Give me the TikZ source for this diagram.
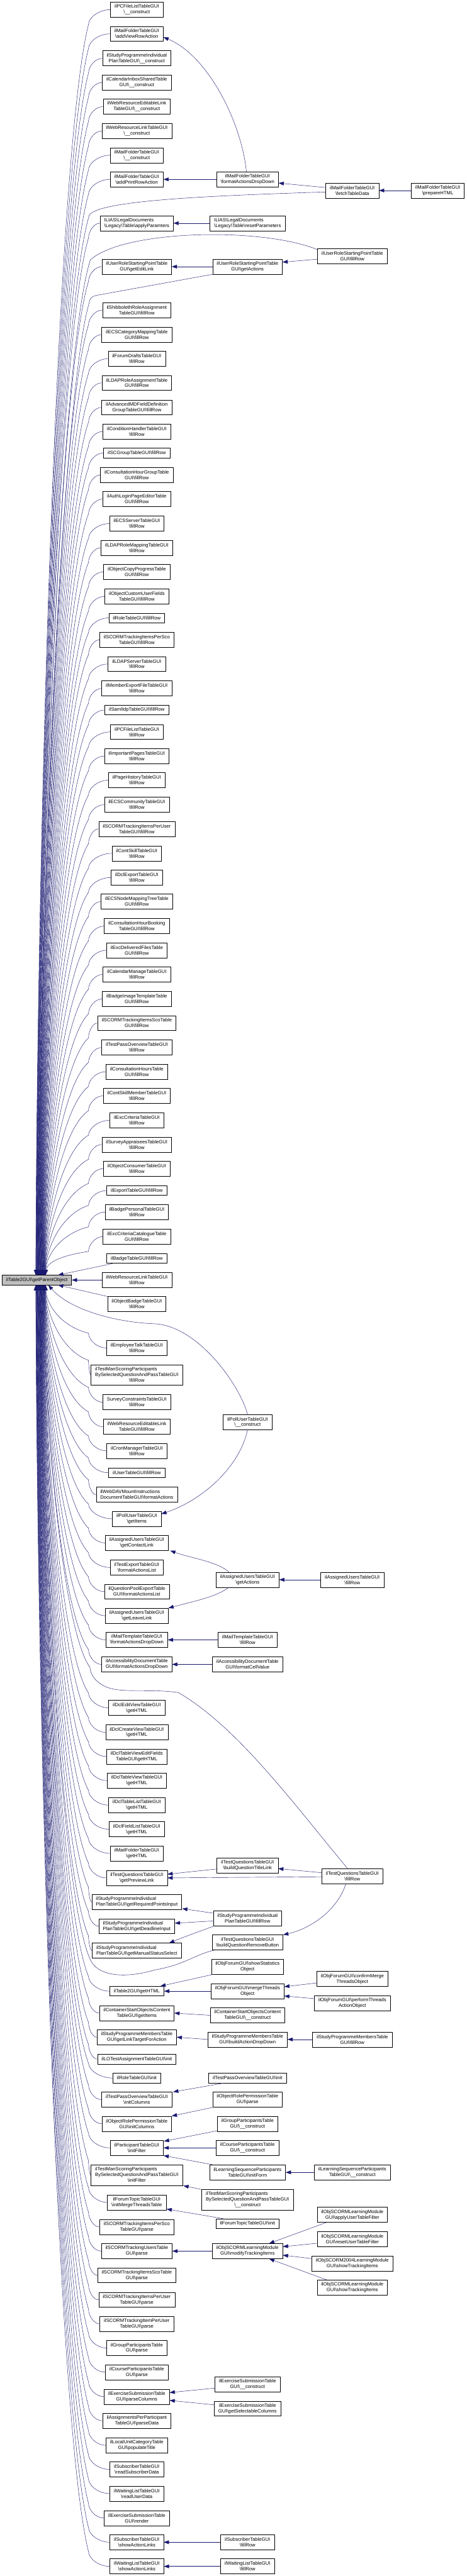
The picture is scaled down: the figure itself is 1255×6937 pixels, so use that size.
\documentclass[tikz,border=0pt]{standalone}
\usepackage{fontspec}
\setmainfont{Liberation Sans}
\usetikzlibrary{arrows.meta,calc}
\definecolor{edgeblue}{HTML}{191970}
\def\BKS{\textbackslash}
\begin{document}
\begin{tikzpicture}[x=1pt,y=-1pt,
  nbox/.style={draw=black,line width=0.9pt,fill=white,inner xsep=11pt,inner ysep=2pt,align=center,font=\fontsize{13}{15.2}\selectfont},
  b1/.style={nbox,minimum height=26pt},
  b2/.style={nbox,minimum height=40.5pt},
  b3/.style={nbox,minimum height=55pt},
  lft/.style={align=left},
  rootbox/.style={b1,fill=black!25},
  conn/.style={draw=edgeblue,line width=0.75pt,-{Triangle[length=14pt,width=10pt]}}]
\fill[white] (0,0) rectangle (1255,6937);
\useasboundingbox (0,0) rectangle (1255,6937);

% ---------- root ----------
\node[rootbox] (root) at (99.25,3447) {ilTable2GUI\BKS getParentObject};

% ---------- column 2 ----------
\node[b2] (n1) at (368,26) {ilPCFileListTableGUI\\\BKS\_\_construct};
\node[b2] (n2) at (368,91) {ilMailFolderTableGUI\\\BKS addViewRowAction};
\node[b2] (n3) at (368,157) {ilStudyProgrammeIndividual\\PlanTableGUI\BKS\_\_construct};
\node[b2] (n4) at (368,222) {ilCalendarInboxSharedTable\\GUI\BKS\_\_construct};
\node[b2] (n5) at (368,287) {ilWebResourceEditableLink\\TableGUI\BKS\_\_construct};
\node[b2] (n6) at (368,353) {ilWebResourceLinkTableGUI\\\BKS\_\_construct};
\node[b2] (n7) at (368,418) {ilMailFolderTableGUI\\\BKS\_\_construct};
\node[b2] (n8) at (368,483) {ilMailFolderTableGUI\\\BKS addPrintRowAction};
\node[b2,lft] (n9) at (368,601) {ILIAS\BKS LegalDocuments\\\BKS Legacy\BKS Table\BKS applyParamters};
\node[b2] (n10) at (368,718) {ilUserRoleStartingPointTable\\GUI\BKS getEditLink};
\node[b2] (n11) at (368,835) {ilShibbolethRoleAssignment\\TableGUI\BKS fillRow};
\node[b2] (n12) at (368,901) {ilECSCategoryMappingTable\\GUI\BKS fillRow};
\node[b2] (n13) at (368,966) {ilForumDraftsTableGUI\\\BKS fillRow};
\node[b2] (n14) at (368,1031) {ilLDAPRoleAssignmentTable\\GUI\BKS fillRow};
\node[b2] (n15) at (368,1097) {ilAdvancedMDFieldDefinition\\GroupTableGUI\BKS fillRow};
\node[b2] (n16) at (368,1162) {ilConditionHandlerTableGUI\\\BKS fillRow};
\node[b1] (n17) at (368,1220) {ilSCGroupTableGUI\BKS fillRow};
\node[b2] (n18) at (368,1279) {ilConsultationHourGroupTable\\GUI\BKS fillRow};
\node[b2] (n19) at (368,1344) {ilAuthLoginPageEditorTable\\GUI\BKS fillRow};
\node[b2] (n20) at (368,1410) {ilECSServerTableGUI\\\BKS fillRow};
\node[b2] (n21) at (368,1475) {ilLDAPRoleMappingTableGUI\\\BKS fillRow};
\node[b2] (n22) at (368,1540) {ilObjectCopyProgressTable\\GUI\BKS fillRow};
\node[b2] (n23) at (368,1606) {ilObjectCustomUserFields\\TableGUI\BKS fillRow};
\node[b1] (n24) at (368,1664) {ilRoleTableGUI\BKS fillRow};
\node[b2] (n25) at (368,1723) {ilSCORMTrackingItemsPerSco\\TableGUI\BKS fillRow};
\node[b2] (n26) at (368,1788) {ilLDAPServerTableGUI\\\BKS fillRow};
\node[b2] (n27) at (368,1854) {ilMemberExportFileTableGUI\\\BKS fillRow};
\node[b1] (n28) at (368,1912) {ilSamlIdpTableGUI\BKS fillRow};
\node[b2] (n29) at (368,1971) {ilPCFileListTableGUI\\\BKS fillRow};
\node[b2] (n30) at (368,2036) {ilImportantPagesTableGUI\\\BKS fillRow};
\node[b2] (n31) at (368,2101) {ilPageHistoryTableGUI\\\BKS fillRow};
\node[b2] (n32) at (368,2167) {ilECSCommunityTableGUI\\\BKS fillRow};
\node[b2] (n33) at (368,2232) {ilSCORMTrackingItemsPerUser\\TableGUI\BKS fillRow};
\node[b2] (n34) at (368,2298) {ilContSkillTableGUI\\\BKS fillRow};
\node[b2] (n35) at (368,2363) {ilDclExportTableGUI\\\BKS fillRow};
\node[b2] (n36) at (368,2428) {ilECSNodeMappingTreeTable\\GUI\BKS fillRow};
\node[b2] (n37) at (368,2494) {ilConsultationHourBooking\\TableGUI\BKS fillRow};
\node[b2] (n38) at (368,2559) {ilExcDeliveredFilesTable\\GUI\BKS fillRow};
\node[b2] (n39) at (368,2624) {ilCalendarManageTableGUI\\\BKS fillRow};
\node[b2] (n40) at (368,2690) {ilBadgeImageTemplateTable\\GUI\BKS fillRow};
\node[b2] (n41) at (368,2755) {ilSCORMTrackingItemsScoTable\\GUI\BKS fillRow};
\node[b2] (n42) at (368,2821) {ilTestPassOverviewTableGUI\\\BKS fillRow};
\node[b2] (n43) at (368,2886) {ilConsultationHoursTable\\GUI\BKS fillRow};
\node[b2] (n44) at (368,2951) {ilContSkillMemberTableGUI\\\BKS fillRow};
\node[b2] (n45) at (368,3017) {ilExcCriteriaTableGUI\\\BKS fillRow};
\node[b2] (n46) at (368,3082) {ilSurveyAppraiseesTableGUI\\\BKS fillRow};
\node[b2] (n47) at (368,3147) {ilObjectConsumerTableGUI\\\BKS fillRow};
\node[b1] (n48) at (368,3206) {ilExportTableGUI\BKS fillRow};
\node[b2] (n49) at (368,3264) {ilBadgePersonalTableGUI\\\BKS fillRow};
\node[b2] (n50) at (368,3330) {ilExcCriteriaCatalogueTable\\GUI\BKS fillRow};
\node[b1] (n51) at (368,3389) {ilBadgeTableGUI\BKS fillRow};
\node[b2] (n52) at (368,3447) {ilWebResourceLinkTableGUI\\\BKS fillRow};
\node[b2] (n53) at (368,3512) {ilObjectBadgeTableGUI\\\BKS fillRow};
\node[b2] (n54) at (368,3630) {ilEmployeeTalkTableGUI\\\BKS fillRow};
\node[b3] (n55) at (368,3703) {\begin{tabular}{@{}l@{}}ilTestManScoringParticipants\\BySelectedQuestionAndPassTableGUI\\\multicolumn{1}{@{}c@{}}{\BKS fillRow}\end{tabular}};
\node[b2] (n56) at (368,3776) {SurveyConstraintsTableGUI\\\BKS fillRow};
\node[b2] (n57) at (368,3842) {ilWebResourceEditableLink\\TableGUI\BKS fillRow};
\node[b2] (n58) at (368,3907) {ilCronManagerTableGUI\\\BKS fillRow};
\node[b1] (n59) at (368,3966) {ilUserTableGUI\BKS fillRow};
\node[b2,lft] (n60) at (368,4025) {ilWebDAVMountInstructions\\DocumentTableGUI\BKS formatActions};
\node[b2] (n61) at (368,4090) {ilPollUserTableGUI\\\BKS getItems};
\node[b2] (n62) at (368,4155) {ilAssignedUsersTableGUI\\\BKS getContactLink};
\node[b2] (n63) at (368,4221) {ilTestExportTableGUI\\\BKS formatActionsList};
\node[b2] (n64) at (368,4286) {ilQuestionPoolExportTable\\GUI\BKS formatActionsList};
\node[b2] (n65) at (368,4351) {ilAssignedUsersTableGUI\\\BKS getLeaveLink};
\node[b2] (n66) at (368,4416) {ilMailTemplateTableGUI\\\BKS formatActionsDropDown};
\node[b2] (n67) at (368,4482) {ilAccessibilityDocumentTable\\GUI\BKS formatActionsDropDown};
\node[b2] (n68) at (368,4599) {ilDclEditViewTableGUI\\\BKS getHTML};
\node[b2] (n69) at (368,4665) {ilDclCreateViewTableGUI\\\BKS getHTML};
\node[b2] (n70) at (368,4730) {ilDclTableViewEditFields\\TableGUI\BKS getHTML};
\node[b2] (n71) at (368,4795) {ilDclTableViewTableGUI\\\BKS getHTML};
\node[b2] (n72) at (368,4861) {ilDclTableListTableGUI\\\BKS getHTML};
\node[b2] (n73) at (368,4926) {ilDclFieldListTableGUI\\\BKS getHTML};
\node[b2] (n74) at (368,4991) {ilMailFolderTableGUI\\\BKS getHTML};
\node[b2] (n75) at (368,5057) {ilTestQuestionsTableGUI\\\BKS getPreviewLink};
\node[b2,lft] (n76) at (368,5122) {ilStudyProgrammeIndividual\\PlanTableGUI\BKS getRequiredPointsInput};
\node[b2,lft] (n77) at (368,5187) {ilStudyProgrammeIndividual\\PlanTableGUI\BKS getDeadlineInput};
\node[b2,lft] (n78) at (368,5253) {ilStudyProgrammeIndividual\\PlanTableGUI\BKS getManualStatusSelect};
\node[b1] (n79) at (368,5362) {ilTable2GUI\BKS getHTML};
\node[b2] (n80) at (368,5421) {ilContainerStartObjectsContent\\TableGUI\BKS getItems};
\node[b2] (n81) at (368,5486) {ilStudyProgrammeMembersTable\\GUI\BKS getLinkTargetForAction};
\node[b1] (n82) at (368,5545) {ilLOTestAssignmentTableGUI\BKS init};
\node[b1] (n83) at (368,5596) {ilRoleTableGUI\BKS init};
\node[b2] (n84) at (368,5654) {ilTestPassOverviewTableGUI\\\BKS initColumns};
\node[b2] (n85) at (368,5719) {ilObjectRolePermissionTable\\GUI\BKS initColumns};
\node[b2] (n86) at (368,5784) {ilParticipantTableGUI\\\BKS initFilter};
\node[b3] (n87) at (368,5858) {\begin{tabular}{@{}l@{}}ilTestManScoringParticipants\\BySelectedQuestionAndPassTableGUI\\\multicolumn{1}{@{}c@{}}{\BKS initFilter}\end{tabular}};
\node[b2] (n88) at (368,5931) {ilForumTopicTableGUI\\\BKS initMergeThreadsTable};
\node[b2] (n89) at (368,5997) {ilSCORMTrackingItemsPerSco\\TableGUI\BKS parse};
\node[b2] (n90) at (368,6062) {ilSCORMTrackingUsersTable\\GUI\BKS parse};
\node[b2] (n91) at (368,6127) {ilSCORMTrackingItemsScoTable\\GUI\BKS parse};
\node[b2] (n92) at (368,6193) {ilSCORMTrackingItemsPerUser\\TableGUI\BKS parse};
\node[b2] (n93) at (368,6258) {ilSCORMTrackingItemPerUser\\TableGUI\BKS parse};
\node[b2] (n94) at (368,6323) {ilGroupParticipantsTable\\GUI\BKS parse};
\node[b2] (n95) at (368,6388) {ilCourseParticipantsTable\\GUI\BKS parse};
\node[b2] (n96) at (368,6454) {ilExerciseSubmissionTable\\GUI\BKS parseColumns};
\node[b2] (n97) at (368,6519) {ilAssignmentsPerParticipant\\TableGUI\BKS parseData};
\node[b2] (n98) at (368,6585) {ilLocalUnitCategoryTable\\GUI\BKS populateTitle};
\node[b2] (n99) at (368,6650) {ilSubscriberTableGUI\\\BKS readSubscriberData};
\node[b2] (n100) at (368,6715) {ilWaitingListTableGUI\\\BKS readUserData};
\node[b2] (n101) at (368,6781) {ilExerciseSubmissionTable\\GUI\BKS render};
\node[b2] (n102) at (368,6846) {ilSubscriberTableGUI\\\BKS showActionLinks};
\node[b2] (n103) at (368,6911) {ilWaitingListTableGUI\\\BKS showActionLinks};

% ---------- columns 3-5 ----------
\node[b2] (c3a) at (666,483) {ilMailFolderTableGUI\\\BKS formatActionsDropDown};
\node[b2] (c4a) at (948,513) {ilMailFolderTableGUI\\\BKS fetchTableData};
\node[b2] (c5a) at (1178,513) {ilMailFolderTableGUI\\\BKS prepareHTML};
\node[b2,lft] (c3b) at (666,601) {ILIAS\BKS LegalDocuments\\\BKS Legacy\BKS Table\BKS resetParameters};
\node[b2] (c4b) at (948,689) {ilUserRoleStartingPointTable\\GUI\BKS fillRow};
\node[b2] (c3c) at (666,718) {ilUserRoleStartingPointTable\\GUI\BKS getActions};
\node[b2] (c3d) at (666,3830) {ilPollUserTableGUI\\\BKS\_\_construct};
\node[b2] (c3e) at (666,4254) {ilAssignedUsersTableGUI\\\BKS getActions};
\node[b2] (c4e) at (948,4254) {ilAssignedUsersTableGUI\\\BKS fillRow};
\node[b2] (c3f) at (666,4416) {ilMailTemplateTableGUI\\\BKS fillRow};
\node[b2] (c3g) at (666,4482) {ilAccessibilityDocumentTable\\GUI\BKS formatCellValue};
\node[b2] (c3h) at (666,5023) {ilTestQuestionsTableGUI\\\BKS buildQuestionTitleLink};
\node[b2] (c4h) at (948,5052) {ilTestQuestionsTableGUI\\\BKS fillRow};
\node[b2] (c3i) at (666,5166) {ilStudyProgrammeIndividual\\PlanTableGUI\BKS fillRow};
\node[b2] (c3j) at (666,5231) {ilTestQuestionsTableGUI\\\BKS buildQuestionRemoveButton};
\node[b2] (c3k) at (666,5296) {ilObjForumGUI\BKS showStatistics\\Object};
\node[b2] (c4k) at (948,5329) {ilObjForumGUI\BKS confirmMerge\\ThreadsObject};
\node[b2] (c3l) at (666,5362) {ilObjForumGUI\BKS mergeThreads\\Object};
\node[b2] (c4l) at (948,5394) {ilObjForumGUI\BKS performThreads\\ActionObject};
\node[b2] (c3m) at (666,5427) {ilContainerStartObjectsContent\\TableGUI\BKS\_\_construct};
\node[b2] (c3n) at (666,5492) {ilStudyProgrammeMembersTable\\GUI\BKS buildActionDropDown};
\node[b2] (c4n) at (948,5492) {ilStudyProgrammeMembersTable\\GUI\BKS fillRow};
\node[b1] (c3o) at (666,5596) {ilTestPassOverviewTableGUI\BKS init};
\node[b2] (c3p) at (666,5654) {ilObjectRolePermissionTable\\GUI\BKS parse};
\node[b2] (c3q) at (666,5719) {ilGroupParticipantsTable\\GUI\BKS\_\_construct};
\node[b2] (c3r) at (666,5784) {ilCourseParticipantsTable\\GUI\BKS\_\_construct};
\node[b2] (c3s) at (666,5850) {ilLearningSequenceParticipants\\TableGUI\BKS initForm};
\node[b2] (c4s) at (948,5850) {ilLearningSequenceParticipants\\TableGUI\BKS\_\_construct};
\node[b3] (c3t) at (666,5924) {\begin{tabular}{@{}l@{}}ilTestManScoringParticipants\\BySelectedQuestionAndPassTableGUI\\\multicolumn{1}{@{}c@{}}{\BKS\_\_construct}\end{tabular}};
\node[b1] (c3u) at (666,5988) {ilForumTopicTableGUI\BKS init};
\node[b2] (c4v) at (948,5964) {ilObjSCORMLearningModule\\GUI\BKS applyUserTableFilter};
\node[b2] (c4w) at (948,6030) {ilObjSCORMLearningModule\\GUI\BKS resetUserTableFilter};
\node[b2] (c3v) at (666,6062) {ilObjSCORMLearningModule\\GUI\BKS modifyTrackingItems};
\node[b2] (c4x) at (948,6095) {ilObjSCORM2004LearningModule\\GUI\BKS showTrackingItems};
\node[b2] (c4y) at (948,6160) {ilObjSCORMLearningModule\\GUI\BKS showTrackingItems};
\node[b2] (c3w) at (666,6421) {ilExerciseSubmissionTable\\GUI\BKS\_\_construct};
\node[b2] (c3x) at (666,6486) {ilExerciseSubmissionTable\\GUI\BKS getSelectableColumns};
\node[b2] (c3y) at (666,6846) {ilSubscriberTableGUI\\\BKS fillRow};
\node[b2] (c3z) at (666,6911) {ilWaitingListTableGUI\\\BKS fillRow};

% ---------- fan of callers above the root ----------
\foreach \nd/\yc in {n1/26,n2/91,n3/157,n4/222,n5/287,n6/353,n7/418,n8/483,n9/601,n10/718,n11/835,n12/901,n13/966,n14/1031,n15/1097,n16/1162,n17/1220,n18/1279,n19/1344,n20/1410,n21/1475,n22/1540,n23/1606,n24/1664,n25/1723,n26/1788,n27/1854,n28/1912,n29/1971,n30/2036,n31/2101,n32/2167,n33/2232,n34/2298,n35/2363,n36/2428,n37/2494,n38/2559,n39/2624,n40/2690,n41/2755,n42/2821,n43/2886,n44/2951,n45/3017,n46/3082,n47/3147,n48/3206,n49/3264,n50/3330}{
  \pgfmathsetmacro\ex{96+0.008*\yc}
  \pgfmathsetmacro\px{238-0.6*(238-\ex)}
  \pgfmathsetmacro\py{\yc+40+0.1*(3434.5-\yc)}
  \pgfmathsetmacro\qy{\yc+0.65*(3434.5-\yc)}
  \pgfmathsetmacro\sh{\ex-99.25}
  \draw[conn] (\nd.west) .. controls ($(\nd.west)!0.5!(238,\yc)$) and (239,{\yc+20}) .. (238,{\yc+40}) .. controls (\px,\py) and ({\ex+4},\qy) .. ([xshift=\sh pt]root.north);
}
% ---------- fan of callers below the root ----------
\foreach \nd/\yc in {n54/3630,n55/3703,n56/3776,n57/3842,n58/3907,n59/3966,n60/4025,n61/4090,n62/4155,n63/4221,n64/4286,n65/4351,n66/4416,n67/4482,n68/4599,n69/4665,n70/4730,n71/4795,n72/4861,n73/4926,n74/4991,n75/5057,n76/5122,n77/5187,n78/5253,n79/5362,n80/5421,n81/5486,n82/5545,n83/5596,n84/5654,n85/5719,n86/5784,n87/5858,n88/5931,n89/5997,n90/6062,n91/6127,n92/6193,n93/6258,n94/6323,n95/6388,n96/6454,n97/6519,n98/6585,n99/6650,n100/6715,n101/6781,n102/6846,n103/6911}{
  \pgfmathsetmacro\ex{96+0.008*(6937-\yc)}
  \pgfmathsetmacro\px{238-0.6*(238-\ex)}
  \pgfmathsetmacro\py{\yc-40-0.1*(\yc-3459.3)}
  \pgfmathsetmacro\qy{\yc-0.65*(\yc-3459.3)}
  \pgfmathsetmacro\sh{\ex-99.25}
  \draw[conn] (\nd.west) .. controls ($(\nd.west)!0.5!(238,\yc)$) and (239,{\yc-20}) .. (238,{\yc-40}) .. controls (\px,\py) and ({\ex+4},\qy) .. ([xshift=\sh pt]root.south);
}

% ---------- direct callers next to the root ----------
\draw[conn] ($(n51.south west)+(17,0)$) -- ([xshift=57pt]root.north);
\draw[conn] (n52.west) -- (root.east);
\draw[conn] (n53.north west) -- ([xshift=57pt]root.south);

% ---------- long callers joining the fan ----------
\draw[conn] ($(c4a.west)+(0,4)$) .. controls (560,527) and (262,540) .. (240,580) .. controls (156,865) and (104,2421) .. ([xshift=0.75pt]root.north);
\draw[conn] ($(c4b.west)+(0,-17)$) .. controls (700,610) and (330,620) .. (243,700) .. controls (158,973) and (105.5,2477) .. ([xshift=2.25pt]root.north);
\draw[conn] (c3c.south west) -- (262,795) .. controls (245,798) and (241,805) .. (240,815) .. controls (165,1075) and (106,2512) .. ([xshift=2.75pt]root.north);
\draw[conn] (c3d.north) .. controls (650,3740) and (540,3575) .. (420,3565) .. controls (320,3562) and (190,3530) .. ([xshift=30.75pt]root.south);
\draw[conn] ($(c4h.north)+(-13,0)$) .. controls (800,4870) and (640,4650) .. (480,4558) .. controls (400,4546) and (320,4562) .. (280,4540) .. controls (255,4527) and (244,4510) .. (242,4490) .. controls (169,4390) and (119,3823) .. ([xshift=15.75pt]root.south);
\draw[conn] ($(c3j.south west)+(6,0)$) .. controls (520,5265) and (500,5290) .. (416,5305) .. controls (330,5330) and (260,5320) .. (242,5275) .. controls (162,5093) and (113,4095) .. ([xshift=9.75pt]root.south);

% ---------- other connectors ----------
\draw[conn] (c5a.west) -- (c4a.east);
\draw[conn] ($(c4a.west)+(0,-8)$) -- ($(c3a.east)+(0,10)$);
\draw[conn] (c3a.west) -- (n8.east);
\draw[conn] ($(c3a.north)+(-3,0)$) .. controls (650,330) and (560,150) .. ($(n2.east)+(0,9)$);
\draw[conn] (c3b.west) -- (n9.east);
\draw[conn] ($(c4b.west)+(0,9)$) -- ($(c3c.east)+(0,-12)$);
\draw[conn] (c3c.west) -- (n10.east);
\draw[conn] (c3d.south) .. controls (645,3950) and (545,4040) .. ($(n61.east)+(0,-13)$);
\draw[conn] ($(c3e.north)+(-50,0)$) .. controls (585,4205) and (510,4195) .. ($(n62.south east)+(5,0)$);
\draw[conn] ($(c3e.south)+(-51,0)$) .. controls (585,4300) and (510,4315) .. (n65.north east);
\draw[conn] (c4e.west) -- (c3e.east);
\draw[conn] (c3f.west) -- (n66.east);
\draw[conn] (c3g.west) -- (n67.east);
\draw[conn] ($(c4h.west)+(0,-9)$) -- ($(c3h.east)+(0,9)$);
\draw[conn] ($(c4h.west)+(0,2)$) -- (n75.east);
\draw[conn] ($(c3h.west)+(0,10)$) -- ($(n75.east)+(0,-10)$);
\draw[conn] ($(c4h.south)+(-17,0)$) .. controls (905,5150) and (830,5195) .. (c3j.north east);
\draw[conn] ($(c3i.west)+(0,-14)$) -- ($(n76.south east)+(1,-3)$);
\draw[conn] ($(c3i.west)+(0,7)$) -- ($(n77.east)+(0,-8)$);
\draw[conn] ($(c3i.south west)+(2,0)$) .. controls (540,5200) and (500,5214) .. ($(n78.north east)+(-33,0)$);
\draw[conn] ($(c3k.south west)+(6,0)$) -- ($(n79.north east)+(-10,0)$);
\draw[conn] (c3l.west) -- (n79.east);
\draw[conn] ($(c4k.west)+(0,11)$) -- ($(c3l.east)+(0,-12)$);
\draw[conn] ($(c4l.west)+(0,-12)$) -- ($(c3l.east)+(0,13)$);
\draw[conn] (c3m.west) -- (n80.east);
\draw[conn] (c3n.west) -- (n81.east);
\draw[conn] (c4n.west) -- (c3n.east);
\draw[conn] ($(c3o.south west)+(42,0)$) -- ($(n84.north east)+(3,0)$);
\draw[conn] ($(c3p.south west)+(2,0)$) -- (n85.north east);
\draw[conn] ($(c3q.west)+(0,19)$) -- ($(n86.north east)+(1,3)$);
\draw[conn] (c3r.west) -- (n86.east);
\draw[conn] ($(c3s.north west)+(9,0)$) -- (n86.south east);
\draw[conn] (c4s.west) -- (c3s.east);
\draw[conn] (c3t.north west) -- ($(n87.south east)+(2,0)$);
\draw[conn] ($(c3u.north west)+(20,0)$) -- ($(n88.south east)+(1,-3)$);
\draw[conn] (c3v.west) -- (n90.east);
\draw[conn] ($(c4v.south west)+(26,0)$) -- ($(c3v.north east)+(-37,0)$);
\draw[conn] ($(c4w.west)+(0,11)$) -- ($(c3v.east)+(0,-12)$);
\draw[conn] ($(c4x.west)+(0,-13)$) -- ($(c3v.east)+(0,11)$);
\draw[conn] ($(c4y.north west)+(26,0)$) -- ($(c3v.south east)+(-37,0)$);
\draw[conn] ($(c3w.west)+(0,10)$) -- ($(n96.east)+(0,-11)$);
\draw[conn] ($(c3x.west)+(0,-10)$) -- ($(n96.east)+(0,10)$);
\draw[conn] (c3y.west) -- (n102.east);
\draw[conn] (c3z.west) -- (n103.east);
\end{tikzpicture}
\end{document}
